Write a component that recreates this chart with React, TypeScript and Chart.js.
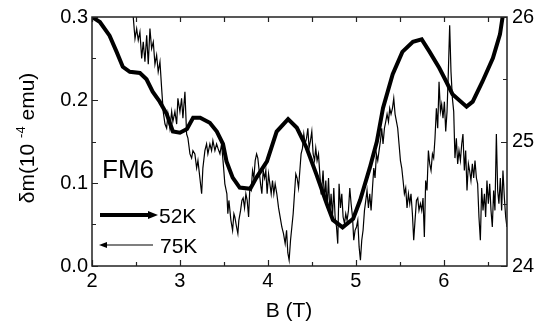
import React, { useEffect, useRef } from 'react';
import { Chart, registerables } from 'chart.js';

Chart.register(...registerables);

// 52K (thick, right axis)
const B52 = [2.0, 2.09, 2.2, 2.28, 2.35, 2.43, 2.545, 2.62, 2.69, 2.77, 2.85, 2.92, 3.0, 3.08, 3.15, 3.23, 3.34, 3.42, 3.49, 3.53, 3.6, 3.68, 3.8, 3.87, 3.99, 4.1, 4.23, 4.33, 4.44, 4.55, 4.67, 4.74, 4.85, 4.97, 5.05, 5.16, 5.24, 5.31, 5.42, 5.53, 5.65, 5.75, 5.84, 5.95, 6.03, 6.1, 6.26, 6.33, 6.44, 6.56, 6.64, 6.67];
const M52 = [26.0, 25.96, 25.85, 25.72, 25.6, 25.56, 25.55, 25.5, 25.4, 25.32, 25.22, 25.08, 25.07, 25.1, 25.19, 25.19, 25.15, 25.08, 24.98, 24.84, 24.71, 24.63, 24.62, 24.71, 24.84, 25.08, 25.18, 25.11, 24.95, 24.74, 24.5, 24.37, 24.31, 24.38, 24.53, 24.79, 25.0, 25.27, 25.54, 25.72, 25.8, 25.82, 25.72, 25.59, 25.48, 25.38, 25.28, 25.32, 25.48, 25.67, 25.86, 26.0];

// 75K (thin, left axis)
const B75 = [
  2.443, 2.469, 2.489, 2.508, 2.526, 2.545, 2.565, 2.583, 2.602, 2.622,
  2.64, 2.659, 2.678, 2.697, 2.716, 2.735, 2.753, 2.773, 2.792, 2.81,
  2.83, 2.849, 2.864, 2.886, 2.906, 2.92, 2.943, 2.963, 2.977, 3.0,
  3.019, 3.034, 3.057, 3.076, 3.091, 3.114, 3.133, 3.148, 3.17, 3.19,
  3.205, 3.227, 3.247, 3.261, 3.284, 3.303, 3.318, 3.341, 3.36, 3.375,
  3.398, 3.417, 3.432, 3.455, 3.474, 3.497, 3.511, 3.534, 3.545, 3.557,
  3.58, 3.599, 3.614, 3.625, 3.644, 3.659, 3.67, 3.69, 3.705, 3.719,
  3.735, 3.75, 3.765, 3.781, 3.795, 3.81, 3.826, 3.841, 3.856, 3.872,
  3.886, 3.901, 3.917, 3.932, 3.947, 3.963, 3.977, 3.992, 4.008, 4.023,
  4.038, 4.053, 4.068, 4.083, 4.102, 4.122, 4.14, 4.159, 4.178, 4.197,
  4.213, 4.227, 4.242, 4.258, 4.273, 4.288, 4.303, 4.318, 4.333, 4.349,
  4.364, 4.378, 4.394, 4.409, 4.424, 4.44, 4.455, 4.469, 4.485, 4.5,
  4.515, 4.531, 4.545, 4.56, 4.576, 4.591, 4.606, 4.614, 4.628, 4.644,
  4.659, 4.674, 4.69, 4.705, 4.719, 4.735, 4.75, 4.765, 4.781, 4.795,
  4.81, 4.826, 4.841, 4.856, 4.872, 4.886, 4.901, 4.917, 4.932, 4.947,
  4.963, 4.977, 4.992, 5.008, 5.023, 5.038, 5.053, 5.068, 5.083, 5.099,
  5.114, 5.128, 5.144, 5.159, 5.174, 5.19, 5.205, 5.219, 5.235, 5.25,
  5.265, 5.281, 5.295, 5.31, 5.326, 5.341, 5.356, 5.372, 5.386, 5.401,
  5.417, 5.432, 5.447, 5.463, 5.477, 5.492, 5.508, 5.523, 5.538, 5.553,
  5.568, 5.583, 5.599, 5.614, 5.628, 5.644, 5.659, 5.674, 5.69, 5.705,
  5.719, 5.735, 5.75, 5.765, 5.78, 5.795, 5.81, 5.826, 5.841, 5.856,
  5.872, 5.886, 5.901, 5.917, 5.932, 5.947, 5.963, 5.977, 5.992, 6.008,
  6.023, 6.038, 6.053, 6.068, 6.083, 6.099, 6.114, 6.128, 6.144, 6.159,
  6.174, 6.19, 6.205, 6.219, 6.235, 6.25, 6.265, 6.281, 6.295, 6.31,
  6.326, 6.341, 6.356, 6.372, 6.386, 6.401, 6.417, 6.432, 6.447, 6.463,
  6.477, 6.492, 6.508, 6.523, 6.538, 6.553, 6.568, 6.583, 6.599, 6.614,
  6.628, 6.644, 6.659, 6.674, 6.69, 6.705, 6.719,
];
const M75 = [
  0.311, 0.300, 0.274, 0.286, 0.272, 0.282, 0.250, 0.270, 0.246, 0.278,
  0.243, 0.286, 0.262, 0.270, 0.243, 0.254, 0.234, 0.246, 0.214, 0.186,
  0.171, 0.166, 0.183, 0.166, 0.186, 0.174, 0.186, 0.171, 0.202, 0.186,
  0.202, 0.178, 0.210, 0.159, 0.154, 0.135, 0.130, 0.139, 0.135, 0.118,
  0.127, 0.106, 0.087, 0.118, 0.139, 0.147, 0.135, 0.147, 0.139, 0.151,
  0.139, 0.147, 0.142, 0.135, 0.147, 0.118, 0.099, 0.087, 0.063, 0.079,
  0.055, 0.043, 0.063, 0.059, 0.047, 0.039, 0.055, 0.067, 0.079, 0.082,
  0.070, 0.087, 0.079, 0.059, 0.094, 0.091, 0.115, 0.106, 0.127, 0.135,
  0.130, 0.115, 0.099, 0.087, 0.115, 0.106, 0.115, 0.087, 0.111, 0.099,
  0.087, 0.103, 0.087, 0.099, 0.087, 0.070, 0.059, 0.047, 0.039, 0.027,
  0.043, 0.016, 0.007, 0.031, 0.047, 0.063, 0.087, 0.111, 0.106, 0.094,
  0.115, 0.135, 0.142, 0.159, 0.147, 0.154, 0.166, 0.142, 0.151, 0.162,
  0.135, 0.127, 0.142, 0.127, 0.135, 0.111, 0.087, 0.094, 0.115, 0.079,
  0.103, 0.070, 0.106, 0.063, 0.087, 0.059, 0.094, 0.059, 0.047, 0.027,
  0.099, 0.070, 0.087, 0.059, 0.051, 0.063, 0.055, 0.067, 0.094, 0.075,
  0.059, 0.031, 0.043, 0.047, 0.055, 0.023, 0.007, 0.031, 0.043, 0.067,
  0.079, 0.091, 0.070, 0.087, 0.067, 0.094, 0.118, 0.106, 0.135, 0.127,
  0.139, 0.151, 0.166, 0.147, 0.166, 0.174, 0.183, 0.174, 0.190, 0.183,
  0.190, 0.202, 0.183, 0.174, 0.166, 0.147, 0.127, 0.118, 0.103, 0.087,
  0.094, 0.070, 0.087, 0.075, 0.087, 0.063, 0.031, 0.055, 0.079, 0.082,
  0.067, 0.075, 0.067, 0.082, 0.035, 0.103, 0.091, 0.139, 0.123, 0.115,
  0.135, 0.130, 0.154, 0.190, 0.166, 0.222, 0.186, 0.195, 0.178, 0.198,
  0.162, 0.186, 0.234, 0.290, 0.234, 0.202, 0.186, 0.130, 0.154, 0.123,
  0.139, 0.127, 0.147, 0.159, 0.115, 0.139, 0.091, 0.123, 0.115, 0.103,
  0.123, 0.106, 0.127, 0.106, 0.099, 0.059, 0.031, 0.094, 0.067, 0.087,
  0.059, 0.103, 0.075, 0.099, 0.067, 0.047, 0.091, 0.067, 0.159, 0.091,
  0.075, 0.106, 0.067, 0.115, 0.082, 0.059, 0.047,
];

const X_TICKS = [2, 2.5, 3, 3.5, 4, 4.5, 5, 5.5, 6, 6.5];
const Y_TICKS = [0, 0.05, 0.1, 0.15, 0.2, 0.25, 0.3];
const Y1_TICKS = [24, 24.5, 25, 25.5, 26];

const X_TITLE = 'B (T)';
const Y_TITLE_A = 'δm(10 ';
const Y_TITLE_SUP = '-4';
const Y_TITLE_B = ' emu)';
const SAMPLE = 'FM6';
const LEGEND = ['52K', '75K'];

const FF = '"Liberation Sans", Arial, Helvetica, sans-serif';
const f = (s: number) => `${s}px ${FF}`;

const isMajor1 = (v: number) => Math.abs(v * 10 - Math.round(v * 10)) < 1e-6;

const decor = {
  id: 'decor',
  afterDraw(chart: any) {
    const { ctx, chartArea: a, scales } = chart;
    const xs = scales.x, ys = scales.y, y1 = scales.y1;
    ctx.save();
    // frame
    ctx.strokeStyle = '#222';
    ctx.lineWidth = 1.5;
    ctx.strokeRect(a.left, a.top, a.right - a.left, a.bottom - a.top);
    // ticks
    ctx.lineWidth = 1.2;
    ctx.beginPath();
    for (const v of X_TICKS) {
      const px = Math.round(xs.getPixelForValue(v)) + 0.5;
      const len = Number.isInteger(v) ? 6 : 4;
      ctx.moveTo(px, a.bottom);
      ctx.lineTo(px, a.bottom - len);
      ctx.moveTo(px, a.top);
      ctx.lineTo(px, a.top + 5);
    }
    for (const v of Y_TICKS) {
      const py = Math.round(ys.getPixelForValue(v)) + 0.5;
      const len = isMajor1(v) ? 6 : 4;
      ctx.moveTo(a.left, py);
      ctx.lineTo(a.left + len, py);
    }
    for (const v of Y1_TICKS) {
      const py = Math.round(y1.getPixelForValue(v)) + 0.5;
      const len = Number.isInteger(v) ? 6 : 4;
      ctx.moveTo(a.right, py);
      ctx.lineTo(a.right - len, py);
    }
    ctx.stroke();

    ctx.fillStyle = '#000';
    // x title
    ctx.font = f(21);
    ctx.textAlign = 'center';
    ctx.textBaseline = 'alphabetic';
    ctx.fillText(X_TITLE, 289, 317);

    // y title rotated with superscript
    ctx.save();
    ctx.translate(34, 138);
    ctx.rotate(-Math.PI / 2);
    ctx.textAlign = 'left';
    ctx.font = f(21);
    const wA = ctx.measureText(Y_TITLE_A).width;
    const wB = ctx.measureText(Y_TITLE_B).width;
    ctx.font = f(13);
    const wS = ctx.measureText(Y_TITLE_SUP).width;
    let x0 = -(wA + wS + wB) / 2;
    ctx.font = f(21);
    ctx.fillText(Y_TITLE_A, x0, 0);
    x0 += wA;
    ctx.font = f(13);
    ctx.fillText(Y_TITLE_SUP, x0, -9);
    x0 += wS;
    ctx.font = f(21);
    ctx.fillText(Y_TITLE_B, x0, 0);
    ctx.restore();

    // sample label
    ctx.textAlign = 'left';
    ctx.font = f(26);
    ctx.fillText(SAMPLE, 102, 178);

    // legend arrows
    ctx.strokeStyle = '#000';
    ctx.lineWidth = 4;
    ctx.beginPath();
    ctx.moveTo(100, 215);
    ctx.lineTo(150, 215);
    ctx.stroke();
    ctx.beginPath();
    ctx.moveTo(158, 215);
    ctx.lineTo(148, 211);
    ctx.lineTo(148, 219);
    ctx.closePath();
    ctx.fill();

    ctx.lineWidth = 1.2;
    ctx.beginPath();
    ctx.moveTo(105, 245);
    ctx.lineTo(153, 245);
    ctx.stroke();
    ctx.beginPath();
    ctx.moveTo(99, 245);
    ctx.lineTo(107, 242);
    ctx.lineTo(107, 248);
    ctx.closePath();
    ctx.fill();

    ctx.font = f(21);
    ctx.fillText(LEGEND[0], 159, 223);
    ctx.fillText(LEGEND[1], 160, 253);
    ctx.restore();
  },
};

export default function App() {
  const ref = useRef<HTMLCanvasElement | null>(null);
  useEffect(() => {
    document.body.style.margin = '0';
    const canvas = ref.current;
    if (!canvas) return;
    const tickFont = { family: FF, size: 20 };
    const chart = new Chart(canvas, {
      type: 'line',
      data: {
        datasets: [
          {
            label: LEGEND[0],
            data: B52.map((b, i) => ({ x: b, y: M52[i] })),
            yAxisID: 'y1',
            borderColor: '#000',
            borderWidth: 4,
            pointRadius: 0,
            tension: 0,
            fill: false,
          },
          {
            label: LEGEND[1],
            data: B75.map((b, i) => ({ x: b, y: M75[i] })),
            yAxisID: 'y',
            borderColor: '#000',
            borderWidth: 1.2,
            pointRadius: 0,
            tension: 0,
            fill: false,
          },
        ],
      },
      options: {
        animation: false,
        responsive: false,
        devicePixelRatio: 1,
        layout: { padding: { top: 15, left: 0, right: 0, bottom: 0 } },
        plugins: { legend: { display: false }, tooltip: { enabled: false } },
        scales: {
          x: {
            type: 'linear',
            min: 2,
            max: 6.72,
            grid: { display: false, drawTicks: false },
            border: { display: false },
            ticks: {
              stepSize: 0.5,
              autoSkip: false,
              maxRotation: 0,
              padding: 3,
              color: '#000',
              font: tickFont,
              callback: (v: any) => (Number.isInteger(v) ? String(v) : ''),
            },
            afterFit: (s: any) => {
              s.height = 62;
            },
          },
          y: {
            type: 'linear',
            position: 'left',
            min: 0,
            max: 0.3,
            grid: { display: false, drawTicks: false },
            border: { display: false },
            ticks: {
              stepSize: 0.05,
              autoSkip: false,
              padding: 4,
              color: '#000',
              font: tickFont,
              callback: (v: any) => (isMajor1(v) ? Number(v).toFixed(1) : ''),
            },
            afterFit: (s: any) => {
              s.width = 92;
            },
          },
          y1: {
            type: 'linear',
            position: 'right',
            min: 24,
            max: 26,
            grid: { display: false, drawTicks: false },
            border: { display: false },
            ticks: {
              stepSize: 0.5,
              autoSkip: false,
              padding: 5,
              color: '#000',
              font: tickFont,
              callback: (v: any) => (Number.isInteger(v) ? String(v) : ''),
            },
            afterFit: (s: any) => {
              s.width = 29;
            },
          },
        },
      },
      plugins: [decor],
    });
    return () => chart.destroy();
  }, []);
  return (
    <div style={{ width: 536, height: 328 }}>
      <canvas ref={ref} width={536} height={328} style={{ display: 'block' }} />
    </div>
  );
}
